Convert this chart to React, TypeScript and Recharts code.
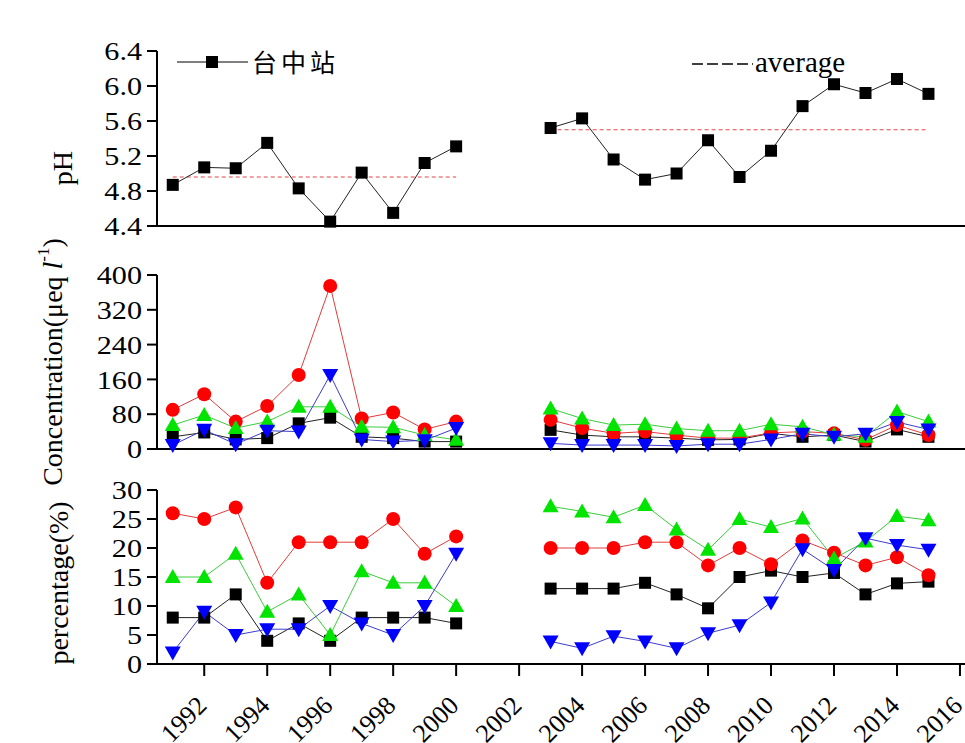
import React from "react";
import { LineChart, Line, XAxis, YAxis, ReferenceLine, Legend } from "recharts";

const years = [
  1991, 1992, 1993, 1994, 1995, 1996, 1997, 1998, 1999, 2000, 2001, 2002, 2003,
  2004, 2005, 2006, 2007, 2008, 2009, 2010, 2011, 2012, 2013, 2014, 2015,
];

// pH at 台中站 (no samples 2001-2002)
const ph = [
  4.87, 5.07, 5.06, 5.35, 4.83, 4.45, 5.01, 4.55, 5.12, 5.31, null, null, 5.52,
  5.63, 5.16, 4.93, 5.0, 5.38, 4.96, 5.26, 5.77, 6.02, 5.92, 6.08, 5.91,
];
const phAverage = [
  { from: 1991, to: 2000, value: 4.96 },
  { from: 2003, to: 2015, value: 5.5 },
];

// concentration (μeq l-1)
const concBlack = [28, 38, 22, 25, 59, 72, 28, 25, 17, 17, null, null, 44, 32, 28, 28, 25, 21, 22, 36, 28, 32, 17, 45, 28];
const concRed = [90, 126, 63, 99, 170, 375, 70, 84, 45, 63, null, null, 67, 48, 36, 40, 32, 25, 25, 37, 40, 36, 21, 55, 32];
const concGreen = [55, 78, 48, 63, 97, 97, 51, 50, 32, 21, null, null, 93, 70, 55, 57, 47, 42, 42, 57, 51, 33, 28, 86, 63];
const concBlue = [9, 44, 11, 42, 40, 170, 22, 17, 20, 48, null, null, 13, 9, 9, 9, 7, 11, 11, 22, 35, 28, 35, 62, 45];

// percentage (%)
const pctBlack = [8, 8, 12, 4, 7, 4, 8, 8, 8, 7, null, null, 13, 13, 13, 14, 12, 9.6, 15, 16.1, 15, 15.7, 12, 13.9, 14.2];
const pctRed = [26, 25, 27, 14, 21, 21, 21, 25, 19, 22, null, null, 20, 20, 20, 21, 21, 17, 20, 17.2, 21.3, 19.2, 17, 18.4, 15.3];
const pctGreen = [15, 15, 19, 9, 12, 5, 16, 14, 14, 10, null, null, 27.2, 26.3, 25.3, 27.4, 23.2, 19.7, 25, 23.6, 25.1, 18.2, 21.1, 25.5, 24.8];
const pctBlue = [2, 9, 5, 6, 6, 10, 7, 5, 10, 19, null, null, 3.9, 2.7, 4.8, 3.9, 2.7, 5.3, 6.7, 10.6, 19.8, 16.2, 21.7, 20.5, 19.7];

const yearTicks = [1992, 1994, 1996, 1998, 2000, 2002, 2004, 2006, 2008, 2010, 2012, 2014, 2016];
const phTicks = [4.4, 4.8, 5.2, 5.6, 6.0, 6.4];
const concTicks = [0, 80, 160, 240, 320, 400];
const pctTicks = [0, 5, 10, 15, 20, 25, 30];

const data = years.map((year, i) => ({
  year,
  ph: ph[i],
  concBlack: concBlack[i],
  concRed: concRed[i],
  concGreen: concGreen[i],
  concBlue: concBlue[i],
  pctBlack: pctBlack[i],
  pctRed: pctRed[i],
  pctGreen: pctGreen[i],
  pctBlue: pctBlue[i],
}));

const SERIF = "'Liberation Serif', 'Times New Roman', serif";
const CJK = "'Noto Sans CJK TC', 'Noto Sans CJK SC', sans-serif";
const X_DOMAIN: [number, number] = [1990.5, 2016.16];
const AXIS = { stroke: "#000", strokeWidth: 2 };

const BLACK = "#000";
const RED = "#ff0000";
const GREEN = "#00e400";
const BLUE = "#0000ff";

const square = (p: any) =>
  p.cy == null ? <g key={`s${p.index}`} /> : (
    <rect key={`s${p.index}`} x={p.cx - 6} y={p.cy - 6} width={12} height={12} fill={BLACK} />
  );
const circle = (p: any) =>
  p.cy == null ? <g key={`c${p.index}`} /> : (
    <circle key={`c${p.index}`} cx={p.cx} cy={p.cy} r={7} fill={RED} />
  );
const triUp = (p: any) =>
  p.cy == null ? <g key={`u${p.index}`} /> : (
    <polygon key={`u${p.index}`} points={`${p.cx},${p.cy - 8} ${p.cx + 8},${p.cy + 6} ${p.cx - 8},${p.cy + 6}`} fill={GREEN} />
  );
const triDown = (p: any) =>
  p.cy == null ? <g key={`d${p.index}`} /> : (
    <polygon key={`d${p.index}`} points={`${p.cx - 8},${p.cy - 6} ${p.cx + 8},${p.cy - 6} ${p.cx},${p.cy + 8}`} fill={BLUE} />
  );

// the source figure's horizontal text is a little wider than plain Times
const YTick = ({ x, y, payload, digits }: any) => (
  <text
    transform={`translate(${x - 1} ${y}) scale(1.16 1)`}
    dy="0.35em"
    textAnchor="end"
    fontSize={26}
    fontFamily={SERIF}
    fill="#000"
  >
    {digits ? Number(payload.value).toFixed(digits) : payload.value}
  </text>
);

const YearTick = ({ x, y, payload }: any) => {
  const ax = x + 4;
  const ay = y + 31;
  return (
    <text x={ax} y={ay} transform={`rotate(-45 ${ax} ${ay})`} textAnchor="end" fontSize={26} fontFamily={SERIF} fill="#000">
      {payload.value}
    </text>
  );
};

const PhLegend = () => (
  <svg width={965} height={90}>
    <line x1={177} y1={62} x2={248} y2={62} stroke="#000" strokeWidth={1.2} />
    <rect x={206} y={56} width={12} height={12} fill="#000" />
    <text x={252} y={72} fontSize={25} letterSpacing={4} fontFamily={CJK} fill="#000">
      台中站
    </text>
    <line x1={692} y1={64} x2={753} y2={64} stroke="#000" strokeWidth={1.4} strokeDasharray="11 4" />
    <text x={755} y={72} fontSize={29} fontFamily={SERIF} fill="#000">
      average
    </text>
  </svg>
);

const Title = ({ x, y, children }: any) => (
  <text
    x={x}
    y={y}
    transform={`rotate(-90 ${x} ${y})`}
    textAnchor="middle"
    dominantBaseline="middle"
    fontSize={28}
    fontFamily={SERIF}
    fill="#000"
  >
    {children}
  </text>
);

const seriesLine = (key: string, color: string, dot: any) => (
  <Line
    key={key}
    dataKey={key}
    stroke={color}
    strokeWidth={1}
    dot={dot}
    activeDot={false}
    isAnimationActive={false}
  />
);

const xAxisTop = (
  <XAxis
    dataKey="year"
    type="number"
    domain={X_DOMAIN}
    ticks={yearTicks}
    allowDataOverflow
    tick={false}
    tickSize={12}
    height={14}
    axisLine={AXIS}
    tickLine={AXIS}
  />
);

export default function App() {
  return (
    <div
      style={{
        position: "absolute",
        left: 0,
        top: 0,
        width: 965,
        height: 743,
        overflow: "hidden",
        background: "#fff",
      }}
    >
      <div style={{ position: "absolute", left: 0, top: 0 }}>
        <LineChart width={965} height={240} data={data} margin={{ top: 51, right: 0, bottom: 0, left: 0 }}>
          {xAxisTop}
          <YAxis
            domain={[4.4, 6.4]}
            ticks={phTicks}
            interval={0}
            width={157}
            tickSize={10}
            tickMargin={4}
            tick={<YTick digits={1} />}
            axisLine={AXIS}
            tickLine={AXIS}
          />
          {phAverage.map((a) => (
            <ReferenceLine
              key={a.from}
              segment={[
                { x: a.from, y: a.value },
                { x: a.to, y: a.value },
              ]}
              stroke="#e04848"
              strokeWidth={1.2}
              strokeDasharray="4 3"
            />
          ))}
          {seriesLine("ph", "#222", square)}
          <Legend
            layout="vertical"
            align="center"
            verticalAlign="middle"
            content={PhLegend}
            wrapperStyle={{ top: 0, left: 0, width: 965, height: 90 }}
          />
        </LineChart>
      </div>

      <div style={{ position: "absolute", left: 0, top: 240 }}>
        <LineChart width={965} height={223} data={data} margin={{ top: 35, right: 0, bottom: 0, left: 0 }}>
          {xAxisTop}
          <YAxis
            domain={[0, 400]}
            ticks={concTicks}
            interval={0}
            width={157}
            tickSize={10}
            tickMargin={4}
            tick={<YTick />}
            axisLine={AXIS}
            tickLine={AXIS}
          />
          {seriesLine("concBlack", "#222", square)}
          {seriesLine("concRed", "#e03c3c", circle)}
          {seriesLine("concGreen", "#3ccc3c", triUp)}
          {seriesLine("concBlue", "#3c3ccc", triDown)}
        </LineChart>
      </div>

      <div style={{ position: "absolute", left: 0, top: 463 }}>
        <LineChart width={965} height={280} data={data} margin={{ top: 27, right: 0, bottom: 0, left: 0 }}>
          <XAxis
            dataKey="year"
            type="number"
            domain={X_DOMAIN}
            ticks={yearTicks}
            allowDataOverflow
            tick={<YearTick />}
            tickSize={12}
            tickMargin={0}
            height={79}
            axisLine={AXIS}
            tickLine={AXIS}
            interval={0}
          />
          <YAxis
            domain={[0, 30]}
            ticks={pctTicks}
            interval={0}
            width={157}
            tickSize={10}
            tickMargin={4}
            tick={<YTick />}
            axisLine={AXIS}
            tickLine={AXIS}
          />
          {seriesLine("pctBlack", "#222", square)}
          {seriesLine("pctRed", "#e03c3c", circle)}
          {seriesLine("pctGreen", "#3ccc3c", triUp)}
          {seriesLine("pctBlue", "#3c3ccc", triDown)}
        </LineChart>
      </div>

      <svg
        width={965}
        height={743}
        style={{ position: "absolute", left: 0, top: 0, pointerEvents: "none" }}
      >
        <Title x={66} y={168}>pH</Title>
        <Title x={56} y={362}>
          <tspan>Concentration(μeq </tspan>
          <tspan fontStyle="italic">l</tspan>
          <tspan fontSize={17} dy={-11}>-1</tspan>
          <tspan dy={11}>)</tspan>
        </Title>
        <Title x={62} y={583}>percentage(%)</Title>
      </svg>
    </div>
  );
}
